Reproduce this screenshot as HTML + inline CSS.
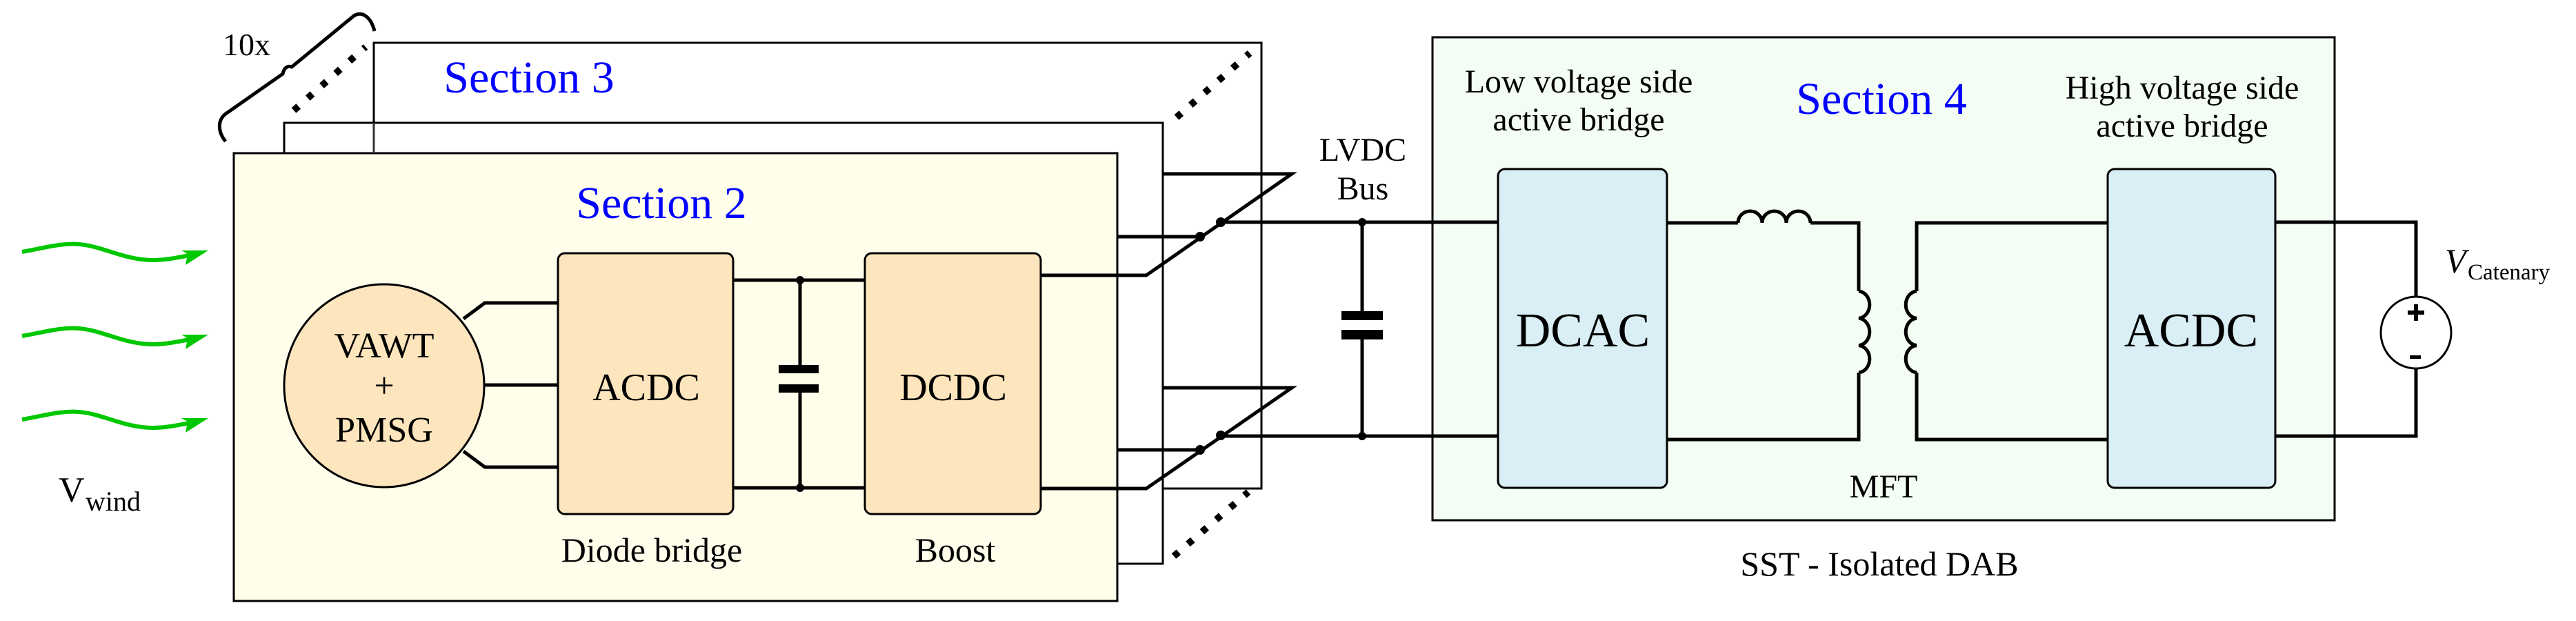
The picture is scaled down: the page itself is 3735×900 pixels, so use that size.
<!DOCTYPE html>
<html><head><meta charset="utf-8"><style>
html,body{margin:0;padding:0;background:#fff}
svg{display:block}
svg text{font-family:"Liberation Serif","DejaVu Serif",serif !important}
</style></head><body>
<svg width="3735" height="900" viewBox="0 0 3735 900" xmlns="http://www.w3.org/2000/svg" font-family="Liberation Serif, DejaVu Serif, serif">
<defs>
<g id="wave">
<path d="M32 365 C70 358 90 352 115 354 C150 357 180 377 222 377 C240 377 260 373 285 368" fill="none" stroke="#00c800" stroke-width="6"/>
<path d="M302 363 L263 363 L272 368 L269 384 Z" fill="#00c800"/>
</g>
</defs>
<rect x="542" y="62" width="1287" height="646" fill="#fff" stroke="#000" stroke-width="3"/>
<rect x="412" y="178" width="1274" height="639" fill="#fff" stroke="#000" stroke-width="3"/>
<rect x="339" y="222" width="1281" height="649" fill="#fffeeb" stroke="#000" stroke-width="3"/>
<line x1="542" y1="178" x2="542" y2="222" stroke="#333" stroke-width="3"/>

<text x="767" y="134" font-size="66" text-anchor="middle" fill="#0000ff">Section 3</text>
<text x="959" y="316" font-size="66" text-anchor="middle" fill="#0000ff">Section 2</text>
<text x="323" y="80" font-size="46">10x</text>

<path d="M327 205 C315 190 315 172 330 163 L410 107 C412 97 418 95 423 97 L513 23 C525 15 538 25 543 45" fill="none" stroke="#000" stroke-width="5"/>
<line x1="426" y1="160" x2="530" y2="68" stroke="#000" stroke-width="10" stroke-dasharray="9 18"/>
<line x1="1706" y1="170" x2="1812" y2="77" stroke="#000" stroke-width="10" stroke-dasharray="9 18"/>
<line x1="1702" y1="806" x2="1810" y2="713" stroke="#000" stroke-width="10" stroke-dasharray="9 18"/>

<use href="#wave"/>
<use href="#wave" y="122"/>
<use href="#wave" y="243"/>
<text x="85" y="727" font-size="52">V</text>
<text x="124" y="740" font-size="40">wind</text>

<ellipse cx="557" cy="559" rx="145" ry="147" fill="#fde5bd" stroke="#000" stroke-width="3"/>
<text x="557" y="518" font-size="52" text-anchor="middle">VAWT</text>
<text x="557" y="576" font-size="52" text-anchor="middle">+</text>
<text x="557" y="640" font-size="52" text-anchor="middle">PMSG</text>
<g fill="none" stroke="#000" stroke-width="5">
<polyline points="672,462 703,439 809,439"/>
<line x1="703" y1="558" x2="809" y2="558"/>
<polyline points="672,654 703,677 809,677"/>
<line x1="1063" y1="406" x2="1254" y2="406"/>
<line x1="1063" y1="707" x2="1254" y2="707"/>
<line x1="1160" y1="406" x2="1160" y2="529"/>
<line x1="1160" y1="569" x2="1160" y2="707"/>
</g>
<rect x="1129" y="529" width="58" height="12" fill="#000"/>
<rect x="1129" y="557" width="58" height="12" fill="#000"/>
<circle cx="1160" cy="406" r="6"/><circle cx="1160" cy="707" r="6"/>
<rect x="809" y="367" width="254" height="378" rx="10" fill="#fde5bd" stroke="#000" stroke-width="3"/>
<rect x="1254" y="367" width="255" height="378" rx="10" fill="#fde5bd" stroke="#000" stroke-width="3"/>
<text x="937" y="580" font-size="56" text-anchor="middle">ACDC</text>
<text x="1382" y="580" font-size="56" text-anchor="middle">DCDC</text>
<text x="945" y="814" font-size="50" text-anchor="middle">Diode bridge</text>
<text x="1385" y="814" font-size="50" text-anchor="middle">Boost</text>

<g fill="none" stroke="#000" stroke-width="5">
<polyline points="1509,399 1662,399 1873,252 1686,252"/>
<line x1="1620" y1="343" x2="1740" y2="343"/>
<polyline points="1509,708 1662,708 1873,562 1686,562"/>
<line x1="1620" y1="652" x2="1740" y2="652"/>
<line x1="1770" y1="322" x2="2172" y2="322"/>
<line x1="1770" y1="632" x2="2172" y2="632"/>
<line x1="1975" y1="322" x2="1975" y2="451"/>
<line x1="1975" y1="492" x2="1975" y2="632"/>
</g>
<g fill="#000">
<circle cx="1740" cy="343" r="7"/><circle cx="1770" cy="322" r="7"/>
<circle cx="1740" cy="652" r="7"/><circle cx="1770" cy="631" r="7"/>
<circle cx="1975" cy="322" r="6"/><circle cx="1975" cy="632" r="6"/>
<rect x="1945" y="451" width="60" height="13"/>
<rect x="1945" y="478" width="60" height="14"/>
</g>
<text x="1976" y="233" font-size="48" text-anchor="middle">LVDC</text>
<text x="1976" y="289" font-size="48" text-anchor="middle">Bus</text>

<rect x="2077" y="54" width="1308" height="700" fill="#f3fdf3" stroke="#000" stroke-width="3"/>
<g fill="none" stroke="#000" stroke-width="5">
<line x1="2077" y1="322" x2="2172" y2="322"/>
<line x1="2077" y1="632" x2="2172" y2="632"/>
<polyline points="2417,323 2520,323"/>
<path d="M2520 323 a17.5 17 0 0 1 35 0 a17.5 17 0 0 1 35 0 a17.5 17 0 0 1 35 0"/>
<polyline points="2625,323 2695,323 2695,422"/>
<path d="M2695 422 a17 19.7 0 0 1 0 39.3 a17 19.7 0 0 1 0 39.3 a17 19.7 0 0 1 0 39.3"/>
<polyline points="2695,540 2695,637 2417,637"/>
<polyline points="3056,323 2779,323 2779,422"/>
<path d="M2779 422 a17 19.7 0 0 0 0 39.3 a17 19.7 0 0 0 0 39.3 a17 19.7 0 0 0 0 39.3"/>
<polyline points="2779,540 2779,637 3056,637"/>
<polyline points="3299,322 3503,322 3503,430"/>
<polyline points="3299,632 3503,632 3503,534"/>
</g>
<rect x="2172" y="245" width="245" height="462" rx="10" fill="#d9eff5" stroke="#000" stroke-width="3"/>
<rect x="3056" y="245" width="243" height="462" rx="10" fill="#d9eff5" stroke="#000" stroke-width="3"/>
<text x="2295" y="502" font-size="70" text-anchor="middle">DCAC</text>
<text x="3177" y="502" font-size="70" text-anchor="middle">ACDC</text>
<ellipse cx="3503" cy="482" rx="51" ry="52" fill="#fff" stroke="#000" stroke-width="3"/>
<rect x="3500" y="441" width="6" height="24" fill="#000"/>
<rect x="3491" y="450" width="24" height="6" fill="#000"/>
<rect x="3494" y="515" width="16" height="5" fill="#000"/>
<text x="3545" y="395" font-size="50" font-style="italic">V</text>
<text x="3578" y="405" font-size="33">Catenary</text>
<text x="2289" y="134" font-size="48" text-anchor="middle">Low voltage side</text>
<text x="2289" y="189" font-size="48" text-anchor="middle">active bridge</text>
<text x="3164" y="143" font-size="48" text-anchor="middle">High voltage side</text>
<text x="3164" y="198" font-size="48" text-anchor="middle">active bridge</text>
<text x="2728" y="165" font-size="66" text-anchor="middle" fill="#0000ff">Section 4</text>
<text x="2731" y="721" font-size="48" text-anchor="middle">MFT</text>
<text x="2725" y="834" font-size="50" text-anchor="middle">SST - Isolated DAB</text>
</svg>
</body></html>
